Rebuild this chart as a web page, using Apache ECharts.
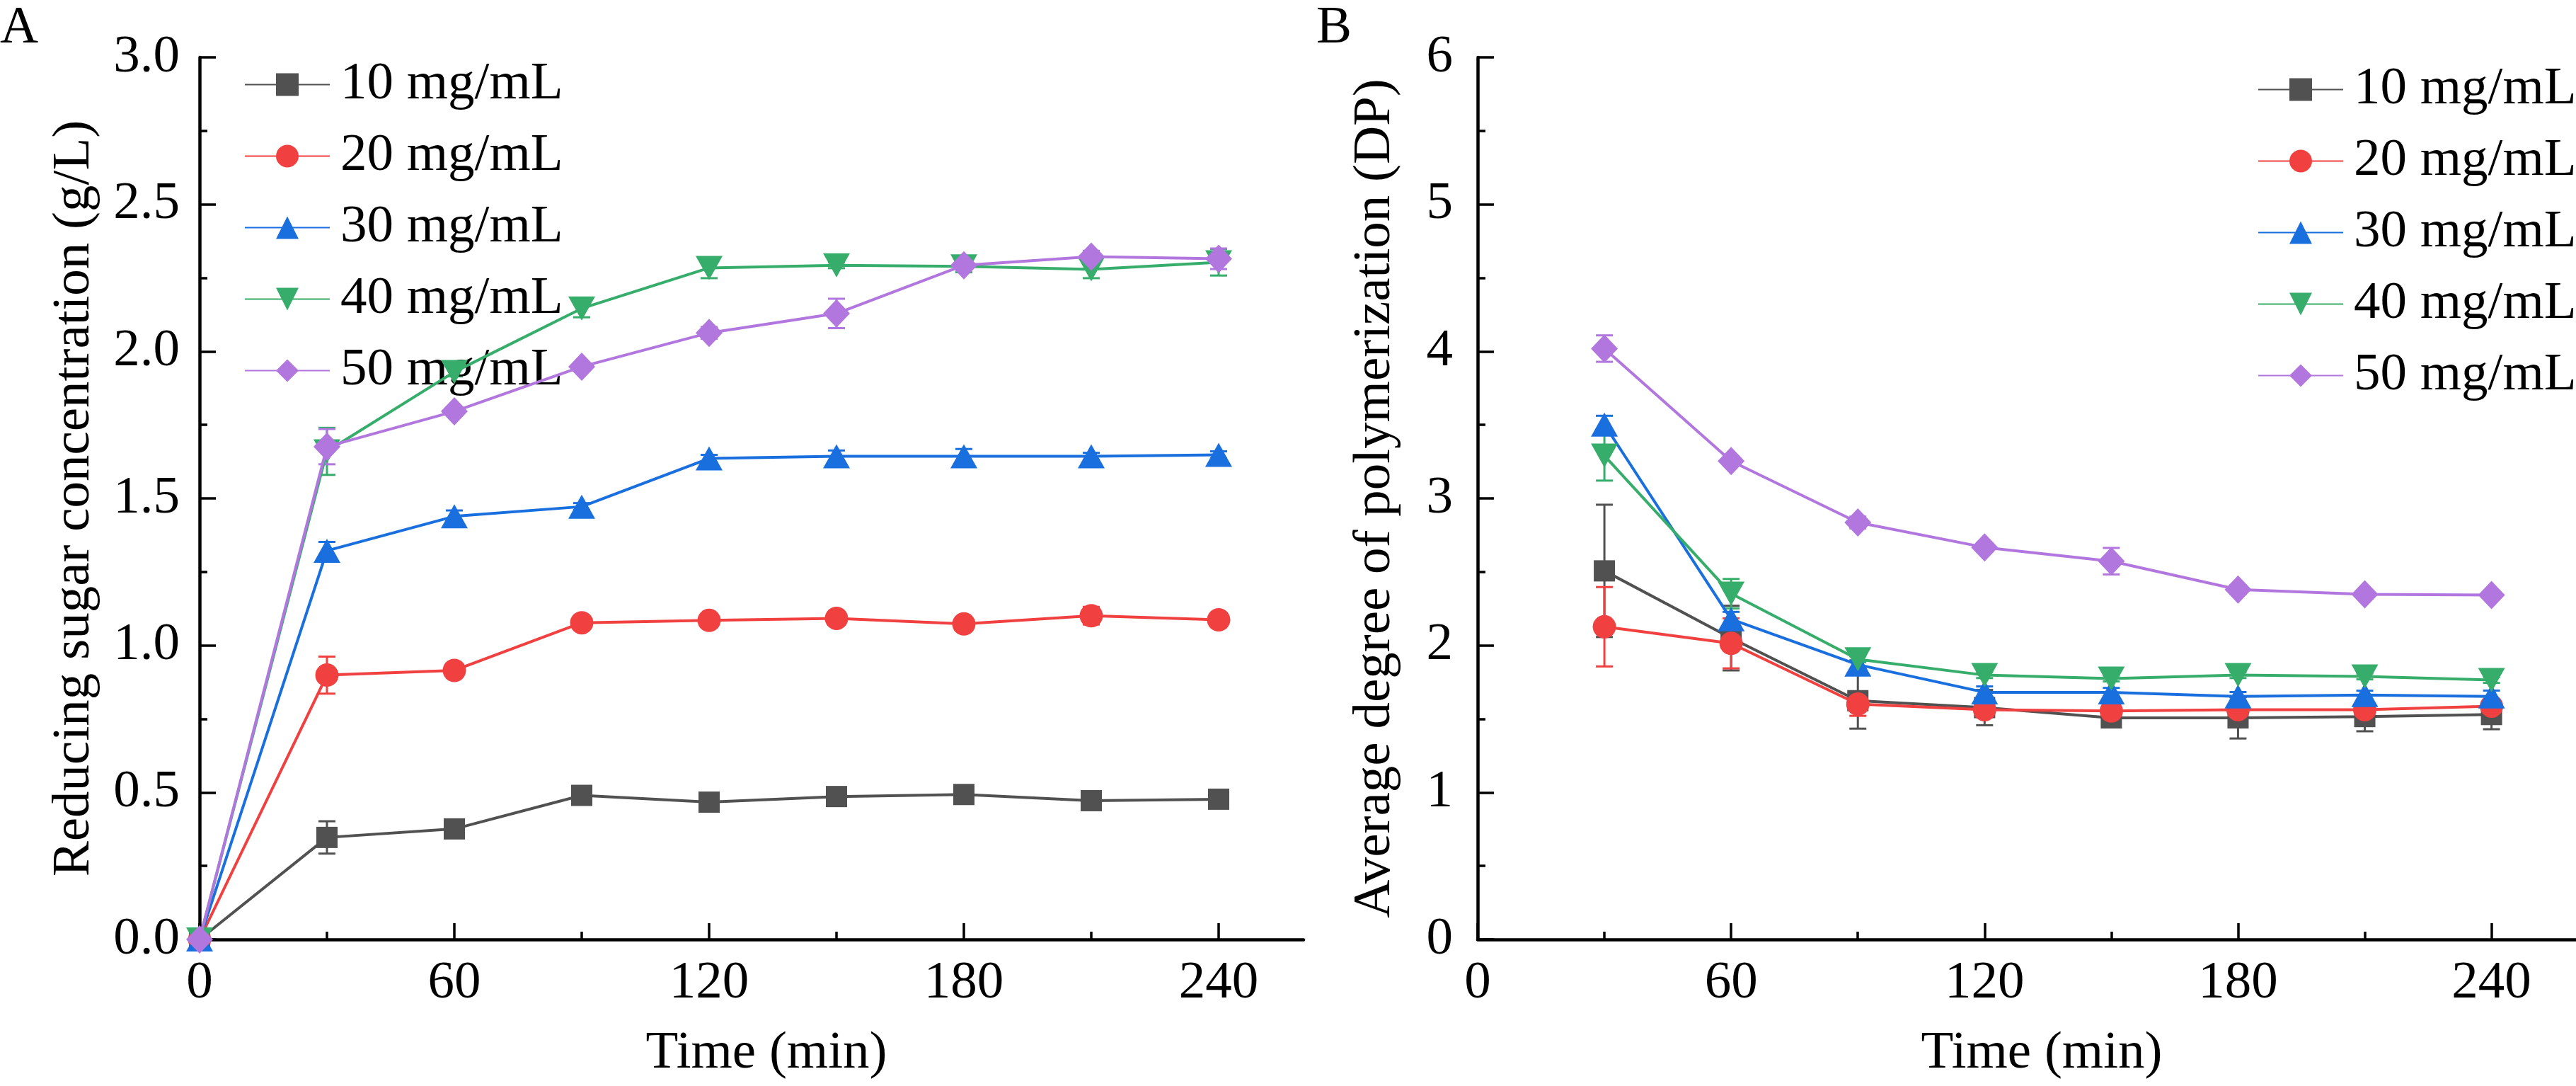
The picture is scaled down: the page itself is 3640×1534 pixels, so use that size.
<!DOCTYPE html>
<html>
<head>
<meta charset="utf-8">
<title>Reducing sugar and DP</title>
<script src="https://cdn.jsdelivr.net/npm/echarts@6/dist/echarts.min.js"></script>
<style>
  html, body { margin: 0; padding: 0; background: #fff; }
  #chart { width: 3640px; height: 1534px; }
</style>
</head>
<body>
<div id="chart"></div>
<script>
  // time points (min)
  const timeA = [0, 30, 60, 90, 120, 150, 180, 210, 240];
  const timeB = [30, 60, 90, 120, 150, 180, 210, 240];
  const seriesNames = ['10 mg/mL', '20 mg/mL', '30 mg/mL', '40 mg/mL', '50 mg/mL'];

  // A: reducing sugar concentration (g/L), mean and error
  const sugar10 = [0, 0.347, 0.376, 0.490, 0.467, 0.486, 0.493, 0.472, 0.477];
  const sugar20 = [0, 0.899, 0.915, 1.077, 1.085, 1.092, 1.073, 1.101, 1.087];
  const sugar30 = [0, 1.322, 1.439, 1.472, 1.636, 1.643, 1.643, 1.643, 1.648];
  const sugar40 = [0, 1.660, 1.930, 2.146, 2.284, 2.293, 2.289, 2.279, 2.303];
  const sugar50 = [0, 1.676, 1.796, 1.948, 2.063, 2.129, 2.293, 2.322, 2.315];
  const sugar10Err = [0, 0.055, 0.015, 0.02, 0.012, 0.012, 0.012, 0.012, 0.012];
  const sugar20Err = [0, 0.063, 0.015, 0.015, 0.012, 0.012, 0.012, 0.03, 0.012];
  const sugar30Err = [0, 0.03, 0.02, 0.012, 0.012, 0.02, 0.025, 0.012, 0.012];
  const sugar40Err = [0, 0.08, 0.015, 0.03, 0.035, 0.01, 0.02, 0.03, 0.045];
  const sugar50Err = [0, 0.06, 0.01, 0.01, 0.02, 0.05, 0.015, 0.02, 0.035];

  // B: average degree of polymerization, mean and error
  const dp10 = [2.507, 2.05, 1.624, 1.577, 1.507, 1.507, 1.516, 1.53];
  const dp20 = [2.127, 2.014, 1.601, 1.563, 1.554, 1.563, 1.563, 1.587];
  const dp30 = [3.502, 2.178, 1.869, 1.681, 1.681, 1.653, 1.662, 1.653];
  const dp40 = [3.291, 2.352, 1.906, 1.798, 1.775, 1.798, 1.789, 1.765];
  const dp50 = [4.019, 3.254, 2.836, 2.667, 2.573, 2.380, 2.347, 2.343];
  const dp10Err = [0.45, 0.22, 0.19, 0.12, 0.06, 0.14, 0.1, 0.1];
  const dp20Err = [0.27, 0.17, 0.08, 0.05, 0.04, 0.05, 0.04, 0.03];
  const dp30Err = [0.06, 0.05, 0.03, 0.04, 0.03, 0.03, 0.03, 0.04];
  const dp40Err = [0.17, 0.1, 0.02, 0.02, 0.02, 0.02, 0.02, 0.02];
  const dp50Err = [0.09, 0.03, 0.04, 0.03, 0.09, 0.03, 0.02, 0.02];

  const xMajorTicks = [0, 60, 120, 180, 240];
  const xMinorTicks = [30, 90, 150, 210];

  const colors = ['#515151', '#F14040', '#1A6FDF', '#37AD6B', '#B177DE'];
  const symbols = ['rect', 'circle', 'triangle', 'path://M0,0 L10,0 L5,9 Z', 'diamond'];
  const symbolSizes = [30, 33, [38, 34], [38, 34], [38, 40]];

  const FONT = "'Liberation Serif', 'Times New Roman', serif";
  const FS = 75;

  function zip(xs, ys, es) {
    return xs.map((x, i) => [x, ys[i], es[i]]);
  }

  // vertical error bar with caps, placed through the axes
  function errRender(color) {
    return function (params, api) {
      const x = api.value(0), y = api.value(1), e = api.value(2);
      if (!e) return null;
      const top = api.coord([x, y + e]);
      const bot = api.coord([x, y - e]);
      const hw = 12;
      const st = { stroke: color, lineWidth: 3 };
      return {
        type: 'group',
        children: [
          { type: 'line', shape: { x1: top[0], y1: top[1], x2: bot[0], y2: bot[1] }, style: st },
          { type: 'line', shape: { x1: top[0] - hw, y1: top[1], x2: top[0] + hw, y2: top[1] }, style: st },
          { type: 'line', shape: { x1: bot[0] - hw, y1: bot[1], x2: bot[0] + hw, y2: bot[1] }, style: st }
        ]
      };
    };
  }

  function xAxes(gridIndex) {
    const base = {
      type: 'value', gridIndex: gridIndex, min: 0, max: 260, position: 'bottom',
      splitLine: { show: false }
    };
    return [
      Object.assign({}, base, {
        name: 'Time (min)',
        nameLocation: 'middle',
        nameGap: 124,
        nameMoveOverlap: false,
        nameTextStyle: { fontFamily: FONT, fontSize: FS, color: '#000', padding: [0, 0, 0, 42] },
        axisLine: { show: true, lineStyle: { color: '#000', width: 4.5 } },
        axisTick: { show: true, inside: true, length: 23, lineStyle: { color: '#000', width: 3.5 }, customValues: xMajorTicks },
        axisLabel: { show: true, margin: 25, fontFamily: FONT, fontSize: FS, color: '#000', customValues: xMajorTicks }
      }),
      // minor ticks only
      Object.assign({}, base, {
        axisLine: { show: false },
        axisTick: { show: true, inside: true, length: 11, lineStyle: { color: '#000', width: 3.5 }, customValues: xMinorTicks },
        axisLabel: { show: false }
      })
    ];
  }

  function yAxis(gridIndex, max, interval, name, nameGap, labelMargin, digits) {
    return {
      type: 'value', gridIndex: gridIndex, min: 0, max: max, interval: interval,
      name: name,
      nameLocation: 'middle',
      nameGap: nameGap,
      nameMoveOverlap: false,
      nameTextStyle: { fontFamily: FONT, fontSize: FS, color: '#000' },
      splitLine: { show: false },
      axisLine: { show: true, lineStyle: { color: '#000', width: 4.5 } },
      axisTick: { show: true, inside: true, length: 23, lineStyle: { color: '#000', width: 3.5 } },
      minorTick: { show: true, splitNumber: 2, length: 11, lineStyle: { color: '#000', width: 3.5 } },
      axisLabel: {
        margin: labelMargin, fontFamily: FONT, fontSize: FS, color: '#000',
        formatter: v => v.toFixed(digits)
      }
    };
  }

  const dataA = [
    zip(timeA, sugar10, sugar10Err), zip(timeA, sugar20, sugar20Err), zip(timeA, sugar30, sugar30Err),
    zip(timeA, sugar40, sugar40Err), zip(timeA, sugar50, sugar50Err)
  ];
  const dataB = [
    zip(timeB, dp10, dp10Err), zip(timeB, dp20, dp20Err), zip(timeB, dp30, dp30Err),
    zip(timeB, dp40, dp40Err), zip(timeB, dp50, dp50Err)
  ];

  const series = [];
  [dataA, dataB].forEach((set, g) => {
    set.forEach((d, i) => {
      series.push({
        type: 'custom', name: seriesNames[i] + ' err', xAxisIndex: g * 2, yAxisIndex: g,
        data: d, encode: { x: 0, y: 1 }, renderItem: errRender(colors[i]), z: 2, clip: false, silent: true
      });
    });
    set.forEach((d, i) => {
      series.push({
        type: 'line', name: seriesNames[i], xAxisIndex: g * 2, yAxisIndex: g,
        data: d.map(p => [p[0], p[1]]),
        symbol: symbols[i], symbolSize: symbolSizes[i], showAllSymbol: true,
        lineStyle: { color: colors[i], width: 4 },
        itemStyle: { color: colors[i] },
        z: 3 + i, clip: false, animation: false
      });
    });
  });

  const legendBase = {
    orient: 'vertical', itemWidth: 120, itemHeight: 40, itemGap: 26,
    data: seriesNames, selectedMode: false,
    textStyle: { fontFamily: FONT, fontSize: FS, color: '#000', padding: [0, 0, 0, 10] }
  };

  const chart = echarts.init(document.getElementById('chart'), null, { renderer: 'canvas' });
  chart.setOption({
    backgroundColor: '#fff',
    animation: false,
    title: [
      { text: 'A', left: 0, top: 3, padding: 0, textStyle: { fontFamily: FONT, fontSize: FS, fontWeight: 'normal', color: '#000' } },
      { text: 'B', left: 1860, top: 3, padding: 0, textStyle: { fontFamily: FONT, fontSize: FS, fontWeight: 'normal', color: '#000' } }
    ],
    legend: [
      Object.assign({}, legendBase, { left: 340, top: 77 }),
      Object.assign({}, legendBase, { left: 3185, top: 84 })
    ],
    grid: [
      { left: 282, top: 81, width: 1560, height: 1246, outerBoundsMode: 'none', containLabel: false },
      { left: 2088, top: 81, width: 1552, height: 1246, outerBoundsMode: 'none', containLabel: false }
    ],
    xAxis: xAxes(0).concat(xAxes(1)),
    yAxis: [
      yAxis(0, 3, 0.5, 'Reducing sugar concentration (g/L)', 139, 28, 1),
      yAxis(1, 6, 1, 'Average degree of polymerization (DP)', 107, 35, 0)
    ],
    series: series
  });
</script>
</body>
</html>
